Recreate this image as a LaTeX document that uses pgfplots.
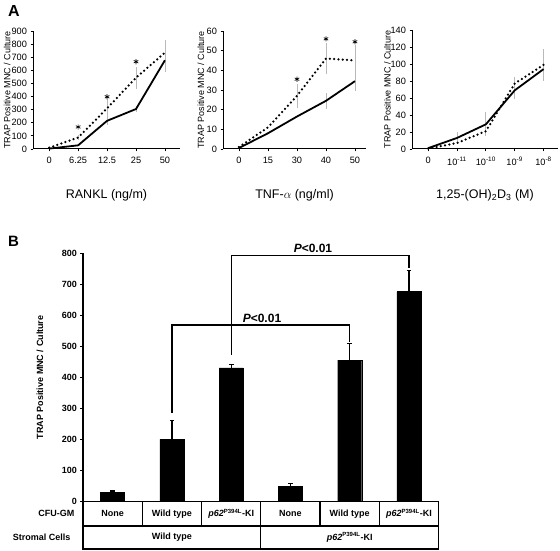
\documentclass[border=0pt]{standalone}
\usepackage{fontspec}
\setmainfont{Liberation Sans}
\usepackage{pgfplots}
\pgfplotsset{compat=1.18}
\begin{document}
\begin{tikzpicture}
\useasboundingbox (0pt,0pt) rectangle (560pt,551pt);
\pgfplotsset{
 Aaxis/.style={
  scale only axis, height=118pt, ymin=0,
  axis lines=left, axis line style={-, line width=1pt},
  tick align=outside, major tick length=2.5pt, tick style={black, line width=0.8pt},
  xtick={0,1,2,3,4},
  /pgf/number format/assume math mode=true,
  ticklabel style={font=\fontsize{9.2}{10}\selectfont},
  xticklabel style={yshift=-2pt},
  xlabel style={font=\fontsize{12.5}{14}\selectfont, at={(axis description cs:0.5,0)}, anchor=center, yshift=-46pt},
  clip=false,
 },
 solidline/.style={black, line width=1.8pt, mark=none},
 dotline/.style={black, line width=2.5pt, dash pattern=on 0pt off 4.3pt, line cap=round, mark=none},
 errs/.style={draw=none, mark=none, forget plot, error bars/.cd, y dir=both, y explicit, error mark=none, error bar style={gray!55, line width=0.9pt}},
 stars/.style={only marks, mark=asterisk, mark size=2.6pt, black, line width=0.7pt, mark options={line width=0.7pt}},
}
\node[font=\fontsize{16}{18}\selectfont\bfseries] at (14pt,540pt) {A};
\node[font=\fontsize{15}{17}\selectfont\bfseries] at (13.5pt,309.5pt) {B};

% ---------- A1 RANKL ----------
\begin{axis}[Aaxis, at={(33pt,402pt)}, width=147pt, xmin=-0.56, xmax=4.52, ymax=900,
  ytick={0,100,...,900}, xticklabels={0,6.25,12.5,25,50},
  xlabel={RANKL (ng/m)}, ylabel={TRAP Positive MNC / Culture},
  ylabel style={font=\fontsize{9}{10}\selectfont, at={(axis description cs:-0.175,0.5)}, anchor=center}]
\addplot[errs] coordinates {(1,87) +- (0,20) (2,310) +- (0,70) (3,544) +- (0,85) (4,735) +- (0,95)};
\addplot[errs] coordinates {(2,215) +- (0,30) (3,305) +- (0,25) (4,677) +- (0,90)};
\addplot[solidline] coordinates {(0,3) (1,28) (2,215) (3,305) (4,677)};
\addplot[dotline] coordinates {(0,10) (1,87) (2,310) (3,544) (4,735)};
\addplot[stars] coordinates {(1,168) (2,398) (3,666)};
\end{axis}

% ---------- A2 TNF ----------
\begin{axis}[Aaxis, at={(223pt,402pt)}, width=143pt, xmin=-0.55, xmax=4.38, ymax=60,
  ytick={0,10,...,60}, xticklabels={0,15,30,40,50},
  xlabel={TNF-$\alpha$ (ng/ml)}, ylabel={TRAP Positive MNC / Culture},
  ylabel style={font=\fontsize{9}{10}\selectfont, at={(axis description cs:-0.155,0.5)}, anchor=center}]
\addplot[errs] coordinates {(2,27) +- (0,6) (3,46) +- (0,8) (4,45) +- (0,8)};
\addplot[errs] coordinates {(3,24.5) +- (0,4) (4,34.5) +- (0,5)};
\addplot[solidline] coordinates {(0,0.5) (1,8) (2,16.5) (3,24.5) (4,34.5)};
\addplot[dotline] coordinates {(0,1) (1,11) (2,27) (3,46) (4,45)};
\addplot[stars] coordinates {(2,35.5) (3,56) (4,54.5)};
\end{axis}

% ---------- A3 Vitamin D ----------
\begin{axis}[Aaxis, at={(412pt,402pt)}, width=146pt, xmin=-0.56, xmax=4.5, ymax=140, height=119pt,
  ytick={0,20,...,140},
  xticklabels={0,10\textsuperscript{-11},10\textsuperscript{-10},10\textsuperscript{-9},10\textsuperscript{-8}},
  xlabel={1,25-(OH)\textsubscript{2}D\textsubscript{3} (M)}, ylabel={TRAP Positive MNC / Culture},
  ylabel style={font=\fontsize{9}{10}\selectfont, at={(axis description cs:-0.168,0.5)}, anchor=center}]
\addplot[errs] coordinates {(1,13) +- (0,7) (2,29) +- (0,14) (3,69) +- (0,10) (4,94) +- (0,13)};
\addplot[errs] coordinates {(2,21) +- (0,6) (3,77) +- (0,8) (4,99) +- (0,19)};
\addplot[solidline] coordinates {(0,1) (1,13) (2,29) (3,69) (4,94)};
\addplot[dotline] coordinates {(0,0.5) (1,7) (2,21) (3,77) (4,99)};
\end{axis}

% ---------- B ----------
\begin{axis}[at={(83pt,49.5pt)}, scale only axis, width=355.6pt, height=248.5pt,
  xmin=-0.5, xmax=5.5, ymin=0, ymax=800,
  axis x line=none, axis y line*=left, axis line style={-, line width=1.2pt},
  ytick={0,100,...,800}, tick align=outside, major tick length=2.5pt,
  tick style={black, line width=0.8pt},
  /pgf/number format/assume math mode=true,
  yticklabel style={font=\fontsize{9}{10}\selectfont\bfseries},
  ylabel={TRAP Positive MNC / Culture},
  ylabel style={font=\fontsize{9}{10}\selectfont\bfseries, at={(axis description cs:-0.121,0.5)}, anchor=center},
  clip=false]
\addplot[ybar, bar width=24pt, fill=black, draw=black,
  error bars/.cd, y dir=plus, y explicit,
  error bar style={draw=black, line width=1.2pt},
  error mark=-,
  error mark options={draw=black, rotate=90, mark size=2.4pt, line width=1.2pt}]
  coordinates {(0,29) +- (0,5) (1,200) +- (0,62) (2,430) +- (0,12) (3,49) +- (0,8) (4,455) +- (0,54) (5,676) +- (0,67)};
% table
\draw[line width=1.3pt] (axis cs:-0.5,0) rectangle (axis cs:5.5,-153);
\draw[line width=1.3pt] (axis cs:-0.5,-79) -- (axis cs:5.5,-79);
\draw[line width=1.3pt] (axis cs:0.5,0) -- (axis cs:0.5,-79);
\draw[line width=1.3pt] (axis cs:1.5,0) -- (axis cs:1.5,-79);
\draw[line width=1.3pt] (axis cs:2.5,0) -- (axis cs:2.5,-153);
\draw[line width=1.3pt] (axis cs:3.5,0) -- (axis cs:3.5,-79);
\draw[line width=1.3pt] (axis cs:4.5,0) -- (axis cs:4.5,-79);
\node[font=\fontsize{9}{10}\selectfont\bfseries] at (axis cs:0,-39.5) {None};
\node[font=\fontsize{9}{10}\selectfont\bfseries] at (axis cs:1,-39.5) {Wild type};
\node[font=\fontsize{9}{10}\selectfont\bfseries] at (axis cs:2,-39.5) {\textit{p62}\textsuperscript{P394L}-KI};
\node[font=\fontsize{9}{10}\selectfont\bfseries] at (axis cs:3,-39.5) {None};
\node[font=\fontsize{9}{10}\selectfont\bfseries] at (axis cs:4,-39.5) {Wild type};
\node[font=\fontsize{9}{10}\selectfont\bfseries] at (axis cs:5,-39.5) {\textit{p62}\textsuperscript{P394L}-KI};
\node[font=\fontsize{9}{10}\selectfont\bfseries] at (axis cs:1,-116) {Wild type};
\node[font=\fontsize{9}{10}\selectfont\bfseries] at (axis cs:4,-116) {\textit{p62}\textsuperscript{P394L}-KI};
\node[font=\fontsize{9}{10}\selectfont\bfseries, anchor=east, xshift=-5pt] at (axis cs:-0.5,-39.5) {CFU-GM};
\node[font=\fontsize{9}{10}\selectfont\bfseries, anchor=east, xshift=-9pt] at (axis cs:-0.5,-116) {Stromal Cells};
% brackets
\draw[line width=1.3pt] (axis cs:1,285) -- (axis cs:1,568) -- (axis cs:4,568) -- (axis cs:4,514);
\draw[line width=1.3pt] (axis cs:2,472) -- (axis cs:2,791) -- (axis cs:5,791) -- (axis cs:5,752);
\node[font=\fontsize{12}{13}\selectfont\bfseries, anchor=south] at (axis cs:2.52,566) {\textit{P}<0.01};
\node[font=\fontsize{12}{13}\selectfont\bfseries, anchor=south] at (axis cs:3.38,789) {\textit{P}<0.01};
\end{axis}
\end{tikzpicture}
\end{document}
